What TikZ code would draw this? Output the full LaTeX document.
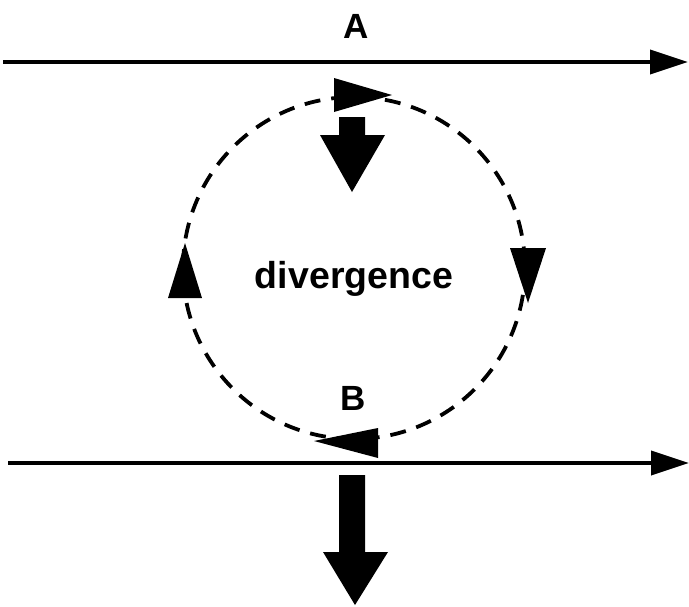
\documentclass[tikz,border=0pt]{standalone}
\usepackage{fontspec}
\setmainfont{Liberation Sans}
\usetikzlibrary{arrows.meta}
\begin{document}
\begin{tikzpicture}[x=1pt,y=-1pt,
  flowline/.style={line width=4pt,-{Triangle[length=38pt,width=24pt]}},
  loopline/.style={line width=3.8pt,dash pattern=on 16pt off 11pt},
  label/.style={font=\bfseries\fontsize{35}{40}\selectfont,inner sep=0pt,anchor=base},
  tiphead/.style={fill=black},
  bigarrow/.style={fill=black}]
\useasboundingbox (0,0) rectangle (689,606);
% flow lines
\coordinate (a0) at (3,62);
\coordinate (a1) at (688,62);
\coordinate (b0) at (8,463);
\coordinate (b1) at (689,463);
\draw[flowline] (a0) -- (a1);
\draw[flowline] (b0) -- (b1);
% labels
\node[label] (A) at (356,38) {A};
\node[label] (B) at (353,410) {B};
\node[label,font=\bfseries\fontsize{37.5}{42}\selectfont] (div) at (354,288) {divergence};
% dashed circle
\coordinate (c) at (354,268);
\draw[loopline] (c) circle[radius=171];
% arrowheads on the circle (clockwise)
\fill[tiphead] (334,78) -- (392,95) -- (334,112) -- cycle;
\fill[tiphead] (510,248) -- (528,303) -- (546,248) -- cycle;
\fill[tiphead] (378,428) -- (314,441) -- (378,458) -- cycle;
\fill[tiphead] (168,298) -- (185,243) -- (202,298) -- cycle;
% thick downward arrows
\fill[bigarrow] (339,117) -- (365,117) -- (365,135) -- (385,135) -- (352,192)
  -- (320,135) -- (339,135) -- cycle;
\fill[bigarrow] (339,475) -- (365,475) -- (365,552) -- (388,552) -- (355,605)
  -- (323,552) -- (339,552) -- cycle;
\end{tikzpicture}
\end{document}
